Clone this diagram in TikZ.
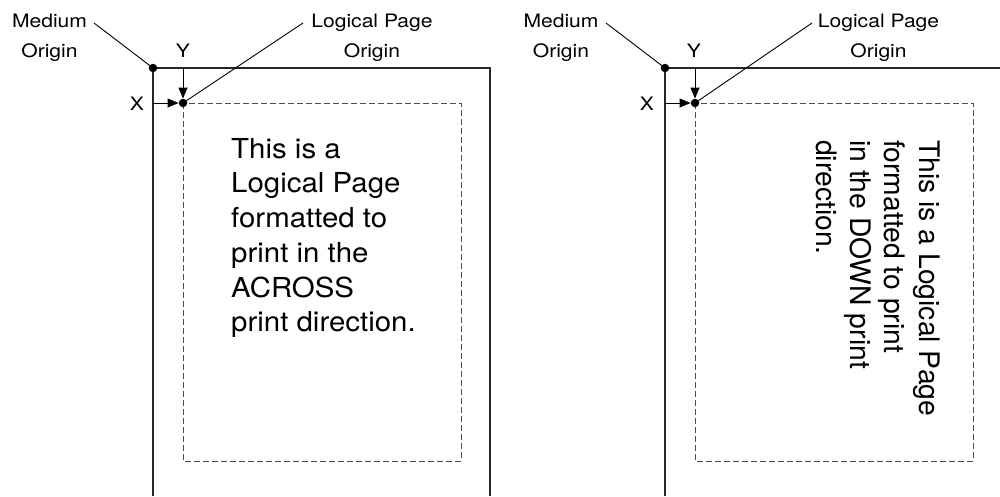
\documentclass[tikz,border=0pt]{standalone}
\usepackage{fontspec}
\setmainfont{TeX Gyre Heros}
\usetikzlibrary{arrows.meta}
\begin{document}
\begin{tikzpicture}[x=1pt,y=-1pt,
  frame/.style={line width=1.3pt, black!85},
  lpage/.style={draw=black!70, line width=0.9pt, dash pattern=on 6pt off 3pt},
  dot/.style={circle, fill=black, inner sep=0pt, minimum size=8.5pt},
  lbl/.style={font=\fontsize{18.5}{30}\selectfont, inner sep=0pt, align=center, xscale=1.14},
  body/.style={font=\fontsize{27.5}{34.7}\selectfont, inner sep=0pt, align=left, xscale=1.07},
  vbody/.style={font=\fontsize{28.3}{34.3}\selectfont, inner sep=0pt, align=left, rotate=-90},
  leader/.style={line width=0.9pt},
  offset/.style={line width=0.9pt, -{Triangle[length=11pt,width=9pt]}}
]
\useasboundingbox (0,0) rectangle (1000,496);

% ---------- left panel ----------
\draw[frame] (153,496) -- (153,68) -- (490,68) -- (490,496);
\draw[lpage] (183,103) rectangle (461,461);
\node[dot] (md1) at (153,68) {};
\node[dot] (lp1) at (183,103) {};
\node[lbl, anchor=north] (mo1) at (49.5,14) {Medium\\Origin};
\node[lbl, anchor=north] (lo1) at (372,14) {Logical Page\\Origin};
\node[lbl, anchor=base] (y1) at (183,57) {Y};
\node[lbl, anchor=base] (x1) at (137,110) {X};
\coordinate (mo1e) at (94,23);
\coordinate (lo1e) at (303,23);
\coordinate (yt1) at (183,68);
\coordinate (xl1) at (153,103);
\draw[leader] (mo1e) -- (md1.center);
\draw[leader] (lo1e) -- (lp1.center);
\draw[offset] (yt1) -- (lp1);
\draw[offset] (xl1) -- (lp1);
\node[body, anchor=north west] (t1) at (231,138) {This is a\\Logical Page\\formatted to\\print in the\\ACROSS\\print direction.};

% ---------- right panel ----------
\draw[frame] (665,496) -- (665,68) -- (1000,68);
\draw[lpage] (695,103) rectangle (973,461);
\node[dot] (md2) at (665,68) {};
\node[dot] (lp2) at (695,103) {};
\node[lbl, anchor=north] (mo2) at (561,14) {Medium\\Origin};
\node[lbl, anchor=north] (lo2) at (878.5,14) {Logical Page\\Origin};
\node[lbl, anchor=base] (y2) at (694,57) {Y};
\node[lbl, anchor=base] (x2) at (647,110) {X};
\coordinate (mo2e) at (606,23);
\coordinate (lo2e) at (812,23);
\coordinate (yt2) at (695,68);
\coordinate (xl2) at (665,103);
\draw[leader] (mo2e) -- (md2.center);
\draw[leader] (lo2e) -- (lp2.center);
\draw[offset] (yt2) -- (lp2);
\draw[offset] (xl2) -- (lp2);
\node[vbody, anchor=north west] (t2) at (940,140) {This is a Logical Page\\formatted to print\\in the DOWN print\\direction.};
\end{tikzpicture}
\end{document}
